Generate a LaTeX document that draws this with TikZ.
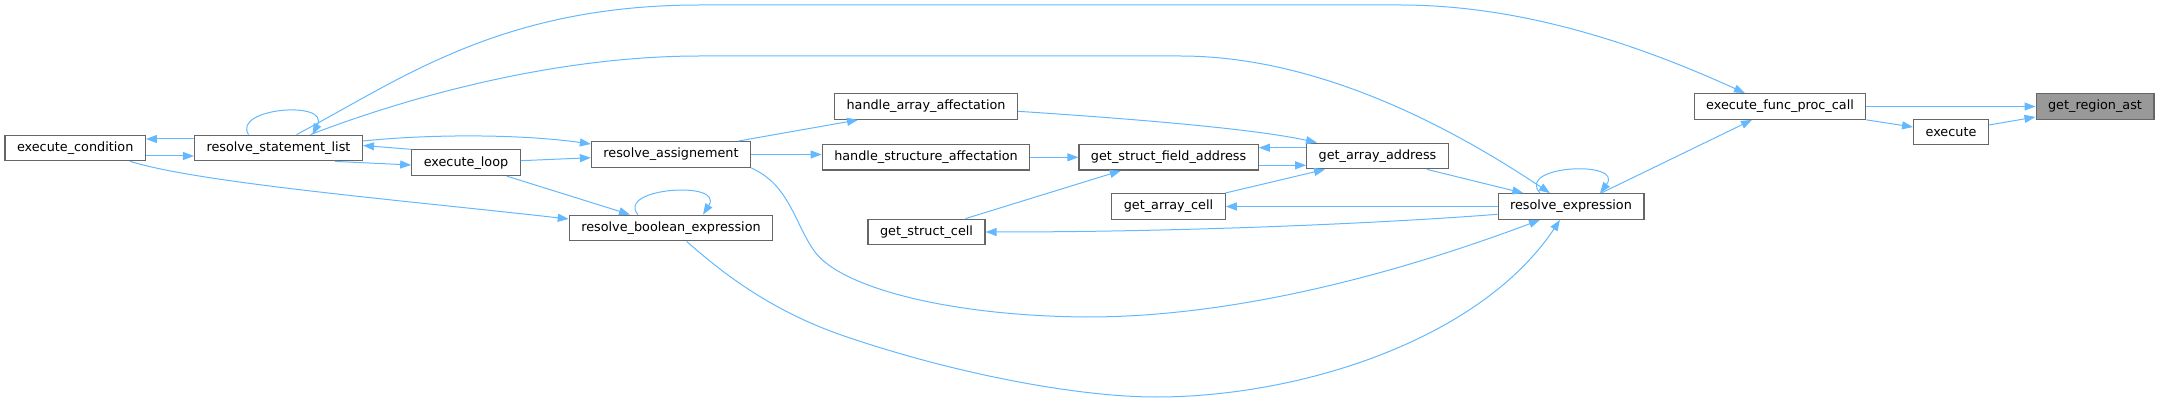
\documentclass[tikz,border=0pt]{standalone}
\usepackage{fontspec}
\setmainfont{DejaVu Sans}
\usepackage{xcolor}
\usepackage{tikz}
\usetikzlibrary{arrows.meta}
\definecolor{edgeblue}{HTML}{63B8FF}
\definecolor{boxline}{HTML}{666666}
\definecolor{boxfill}{HTML}{999999}

\begin{document}
\begin{tikzpicture}[x=1pt, y=-1pt,
    fn/.style={draw=boxline, line width=1.2pt, fill=white, minimum height=25.6pt,
      inner xsep=12pt, inner ysep=2pt, font=\fontsize{12.8}{15}\selectfont},
    call/.style={draw=edgeblue, line width=1pt, -{Triangle[length=11pt,width=8pt]}}]
    \useasboundingbox (0,0) rectangle (2160,403);
    % function boxes
    \node[fn] (cond) at (75.2,148) {execute\_condition};
    \node[fn] (stlist) at (278.5,148) {resolve\_statement\_list};
    \node[fn] (loop) at (466,162.7) {execute\_loop};
    \node[fn] (assign) at (671,154.5) {resolve\_assignement};
    \node[fn] (booexp) at (671,228) {resolve\_boolean\_expression};
    \node[fn] (harr) at (926,106.5) {handle\_array\_affectation};
    \node[fn] (hstr) at (926,157.3) {handle\_structure\_affectation};
    \node[fn] (sfield) at (1168.6,157.3) {get\_struct\_field\_address};
    \node[fn] (aaddr) at (1377.5,156) {get\_array\_address};
    \node[fn] (acell) at (1168.5,206.5) {get\_array\_cell};
    \node[fn] (scell) at (926.5,232) {get\_struct\_cell};
    \node[fn] (rexp) at (1571,206.5) {resolve\_expression};
    \node[fn] (fcall) at (1780,106.5) {execute\_func\_proc\_call};
    \node[fn] (exec) at (1951,132) {execute};
    \node[fn, fill=boxfill] (region) at (2095,106.5) {get\_region\_ast};
    % calls into get_region_ast
    \draw[call] (fcall.east) -- (region.west);
    \draw[call] ([yshift=7pt]exec.east) -- ([yshift=-10.5pt]region.west);
    \draw[call] (fcall.south east) -- ([yshift=5pt]exec.west);
    \draw[call] ([xshift=30pt]rexp.north) -- ([xshift=-28pt]fcall.south);
    % long arcs over the top
    \draw[call] ([xshift=18pt]stlist.north) .. controls (400,80) and (500,5) .. (700,5) -- (1400,5)
      .. controls (1530,5) and (1650,50) .. ([xshift=-35pt]fcall.north);
    \draw[call] ([xshift=32pt]stlist.north) .. controls (400,100) and (550,56) .. (700,56) -- (1180,56)
      .. controls (1330,56) and (1470,140) .. ([xshift=-21pt]rexp.north);
    % self calls
    \draw[call] ([xshift=-30pt]stlist.north) .. controls (232,108) and (330,100) .. ([xshift=34pt]stlist.north);
    \draw[call] ([xshift=-33pt]booexp.north) .. controls (615,188) and (725,180) .. ([xshift=32pt]booexp.north);
    \draw[call] ([xshift=-31pt]rexp.north) .. controls (1515,165) and (1625,160) .. ([xshift=29pt]rexp.north);
    % left part
    \draw[call] ([yshift=9pt]stlist.west) -- ([yshift=9pt]cond.east);
    \draw[call] ([yshift=-8pt]cond.east) -- ([yshift=-8pt]stlist.west);
    \draw[call] ([xshift=55pt]cond.south) .. controls (200,183) and (400,200) .. ([yshift=9pt]booexp.west);
    \draw[call] ([yshift=7pt]stlist.east) .. controls (430,134) and (520,134) .. ([yshift=10.5pt]assign.west);
    \draw[call] (loop.north west) -- ([yshift=2.5pt]stlist.east);
    \draw[call] ([xshift=56.5pt]stlist.south) -- ([yshift=-2.3pt]loop.west);
    \draw[call] ([yshift=2pt]loop.east) -- ([yshift=-3.2pt]assign.west);
    \draw[call] ([xshift=40.7pt]loop.south) -- ([xshift=-41pt]booexp.north);
    % middle part
    \draw[call] ([xshift=67pt]assign.north) -- ([xshift=-68pt]harr.south);
    \draw[call] (assign.east) -- (assign.east -| hstr.west);
    \draw[call] (hstr.east) -- (sfield.west);
    \draw[call] ([yshift=-4.8pt]harr.east) .. controls (1120,118) and (1250,128) .. ([xshift=-60.5pt]aaddr.north);
    \draw[call] ([yshift=8.3pt]aaddr.west) -- ([yshift=8.3pt]aaddr.west -| sfield.east);
    \draw[call] ([yshift=-8pt]sfield.east) -- ([yshift=-8pt]sfield.east -| aaddr.west);
    \draw[call] ([xshift=56.5pt]acell.north) -- ([xshift=-52.5pt]aaddr.south);
    \draw[call] ([xshift=39pt]scell.north) -- ([xshift=-47.8pt]sfield.south);
    \draw[call] ([xshift=49.5pt]aaddr.south) -- ([xshift=-47.7pt]rexp.north);
    \draw[call] (rexp.west) -- (acell.east);
    \draw[call] ([yshift=-7.8pt]rexp.west) .. controls (1400,222) and (1200,232) .. (scell.east);
    % long arcs underneath
    \draw[call] (assign.south east) .. controls (790,185) and (795,225) .. (815,252)
      .. controls (842,288) and (950,316) .. (1087,317)
      .. controls (1250,317) and (1420,265) .. ([xshift=-31pt]rexp.south);
    \draw[call] ([xshift=15.7pt]booexp.south) .. controls (730,280) and (780,315) .. (850,338)
      .. controls (960,375) and (1080,397) .. (1156,397)
      .. controls (1300,397) and (1480,340) .. ([xshift=-11pt]rexp.south);
\end{tikzpicture}
\end{document}
